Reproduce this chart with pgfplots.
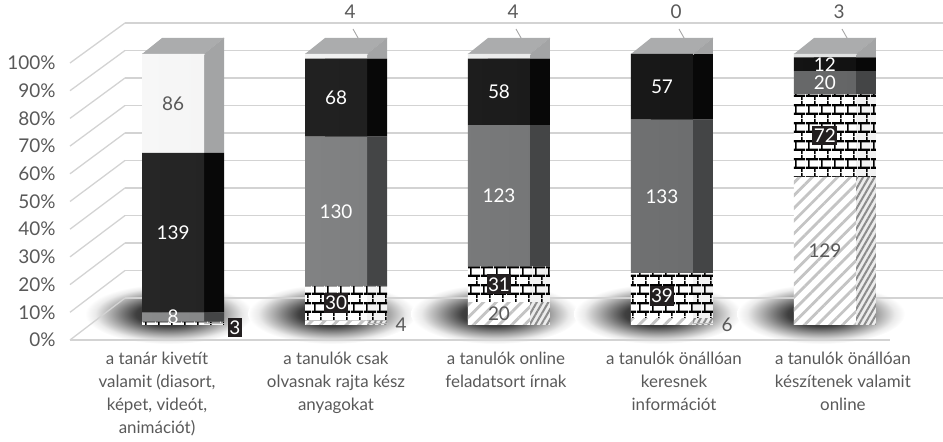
\documentclass[border=0pt]{standalone}
\usepackage{pgfplots}
\pgfplotsset{compat=1.18}
\usepackage{pgfplotstable}
\usepackage{fontspec}
\setmainfont{Lato}
\usetikzlibrary{patterns.meta}

\definecolor{labgray}{HTML}{595959}
\definecolor{gridgray}{HTML}{D3D3D3}
\definecolor{hatchgray}{HTML}{C4C4C4}
\definecolor{hatchside}{HTML}{8C8C8C}
\definecolor{midL}{HTML}{8A8B8C}
\definecolor{midR}{HTML}{646566}
\definecolor{midS}{HTML}{444546}
\definecolor{blkL}{HTML}{262626}
\definecolor{blkR}{HTML}{121212}
\definecolor{blkS}{HTML}{080808}
\definecolor{ltL}{HTML}{F7F7F7}
\definecolor{ltR}{HTML}{E0E1E1}
\definecolor{ltS}{HTML}{A3A4A5}
\definecolor{capgray}{HTML}{ABACAD}
\definecolor{boxblack}{HTML}{231F20}

\pgfdeclareradialshading{floorshadow}{\pgfpoint{0bp}{0bp}}{%
  color(0bp)=(black!90); color(10bp)=(black!75); color(17bp)=(black!35);
  color(22bp)=(black!8); color(25bp)=(white); color(50bp)=(white)}

\pgfdeclarepattern{
  name=bricks3d, type=uncolored,
  bottom left={\pgfpoint{0bp}{0bp}},
  top right={\pgfpoint{13bp}{18bp}},
  tile size={\pgfpoint{13bp}{18bp}},
  code={
    \pgfsetlinewidth{2.4bp}
    \pgfpathmoveto{\pgfpoint{0bp}{4.5bp}}\pgfpathlineto{\pgfpoint{13bp}{4.5bp}}
    \pgfpathmoveto{\pgfpoint{0bp}{13.5bp}}\pgfpathlineto{\pgfpoint{13bp}{13.5bp}}
    \pgfusepath{stroke}
    \pgfsetlinewidth{1.6bp}
    \pgfpathmoveto{\pgfpoint{3bp}{4.5bp}}\pgfpathlineto{\pgfpoint{3bp}{13.5bp}}
    \pgfpathmoveto{\pgfpoint{9.5bp}{13.5bp}}\pgfpathlineto{\pgfpoint{9.5bp}{18bp}}
    \pgfpathmoveto{\pgfpoint{9.5bp}{0bp}}\pgfpathlineto{\pgfpoint{9.5bp}{4.5bp}}
    \pgfusepath{stroke}
  }
}

% a = hatched, b = bricks, c = grey, d = black, e = light
\pgfplotstableread{
x a b c d e
0 0 3 8 139 86
1 4 30 130 68 4
2 20 31 123 58 4
3 6 39 133 57 0
4 129 72 20 12 3
}\datatable
\newcommand{\tot}{(\thisrow{a}+\thisrow{b}+\thisrow{c}+\thisrow{d}+\thisrow{e})}

\pgfplotsset{
  bargeo/.style={at={(70bp,117bp)}, anchor=south west, scale only axis,
    width=820bp, height=271bp, xmin=-0.632, xmax=4.399, ymin=0, ymax=100,
    hide axis, clip=false},
  lab/.style={draw=none, mark=none, point meta=explicit symbolic,
    nodes near coords style={anchor=center, font=\fontsize{19}{19}\selectfont, #1}},
}

\begin{document}
\begin{tikzpicture}
% floor shadows
\foreach \k in {0,...,4}{
  \shade[shading=floorshadow]
    ({70bp+(\k+0.632)*163bp-4bp},128bp) ellipse [x radius=84bp, y radius=30bp];
}
% back wall grid
\begin{axis}[at={(125bp,144bp)}, anchor=south west, scale only axis,
  width=818bp, height=275bp, xmin=0, xmax=1, ymin=0, ymax=100,
  ytick={0,10,...,100}, xtick=\empty, yticklabels={},
  ymajorgrids, major grid style={draw=gridgray, line width=1.3bp},
  axis line style={draw=none}, major tick length=0pt]
\end{axis}
\foreach \k in {0,...,10}{
  \draw[gridgray, line width=1.3bp] (70bp,{102bp+\k*27.7bp}) -- (125bp,{144bp+\k*27.5bp});
}
% front axis: tick labels, category labels, floor edge
\begin{axis}[at={(70bp,102bp)}, anchor=south west, scale only axis,
  width=820bp, height=277bp, xmin=-0.632, xmax=4.399, ymin=0, ymax=100,
  axis x line*=bottom, axis y line*=left,
  x axis line style={draw=gridgray, line width=1.3bp, -},
  y axis line style={draw=none},
  major tick length=0pt,
  ytick={0,10,...,100},
  yticklabels={0\%,10\%,20\%,30\%,40\%,50\%,60\%,70\%,80\%,90\%,100\%},
  yticklabel style={font=\fontsize{19}{19}\selectfont, text=labgray, anchor=east, xshift=-11bp},
  xtick={-0.098,1.0,2.043,3.074,4.11},
  xticklabels={{a tanár kivetít\\valamit (diasort,\\képet, videót,\\animációt)},
    {a tanulók csak\\olvasnak rajta kész\\anyagokat},
    {a tanulók online\\feladatsort írnak},
    {a tanulók önállóan\\keresnek\\információt},
    {a tanulók önállóan\\készítenek valamit\\online}},
  xticklabel style={font=\fontsize{17}{23}\selectfont, text=labgray, align=center, anchor=north, yshift=-9bp}]
\end{axis}
% side faces
\begin{axis}[bargeo, at={(90bp,117bp)}, ybar stacked, bar width=62bp]
\addplot[draw=none, fill=white!85!gray, postaction={pattern={Lines[angle=60,distance=5bp,line width=2bp]}, pattern color=hatchside}]
  table[x=x, y expr=\thisrow{a}/\tot*100]{\datatable};
\addplot[draw=none, fill=white!90!gray, postaction={pattern=bricks3d, pattern color=black}]
  table[x=x, y expr=\thisrow{b}/\tot*100]{\datatable};
\addplot[draw=none, fill=midS] table[x=x, y expr=\thisrow{c}/\tot*100]{\datatable};
\addplot[draw=none, fill=blkS] table[x=x, y expr=\thisrow{d}/\tot*100]{\datatable};
\addplot[draw=none, fill=ltS] table[x=x, y expr=\thisrow{e}/\tot*100]{\datatable};
\end{axis}
% front faces
\begin{axis}[bargeo, ybar stacked, bar width=62bp]
\addplot[draw=none, fill=white, postaction={pattern={Lines[angle=45,distance=9bp,line width=2.8bp]}, pattern color=hatchgray}]
  table[x=x, y expr=\thisrow{a}/\tot*100]{\datatable};
\addplot[draw=none, fill=white, postaction={pattern=bricks3d, pattern color=black}]
  table[x=x, y expr=\thisrow{b}/\tot*100]{\datatable};
\addplot[draw=none, left color=midL, right color=midR] table[x=x, y expr=\thisrow{c}/\tot*100]{\datatable};
\addplot[draw=none, left color=blkL, right color=blkR] table[x=x, y expr=\thisrow{d}/\tot*100]{\datatable};
\addplot[draw=none, left color=ltL, right color=ltR] table[x=x, y expr=\thisrow{e}/\tot*100]{\datatable};
\pgfplotsinvokeforeach{0,1,2,3,4}{
  \fill[ltS] (axis cs:#1,100) ++(31bp,0bp) -- ++(20bp,0bp) -- ++(0bp,16bp) -- cycle;
  \fill[capgray] (axis cs:#1,100) ++(-31bp,0bp) -- ++(62bp,0bp) -- ++(20bp,16bp) -- ++(-62bp,0bp) -- cycle;
  \draw[white!75!gray, line width=1.6bp] (axis cs:#1,100) ++(-31bp,0bp) -- ++(62bp,0bp) -- ++(20bp,16bp);
}
\pgfplotsinvokeforeach{1,2,3,4}{
  \draw[gray!70, line width=0.9bp] (axis cs:#1,100) ++(17bp,25bp) -- ++(13bp,-23bp);
}
\pgfplotsinvokeforeach{0,1,3}{
  \draw[gray!55, line width=0.9bp] (axis cs:#1,0) ++(29bp,2bp) -- ++(24bp,0bp);
}
\end{axis}
% value labels
\begin{axis}[bargeo]
\addplot[lab={text=labgray},
  nodes near coords={\ifnum\pgfplotspointmeta>0 \pgfplotspointmeta\fi}]
  table[x expr={\thisrow{x}+(\thisrow{a}<10)*0.4},
        y expr={ifthenelse(\thisrow{a}<10,0,\thisrow{a}/2/\tot*100)}, meta=a]{\datatable};
\addplot[lab={fill=boxblack, text=white, inner xsep=1.5bp, inner ysep=3bp}, nodes near coords]
  table[x expr={\thisrow{x}+(\thisrow{b}<10)*0.38},
        y expr={ifthenelse(\thisrow{b}<10,-0.9,(\thisrow{a}+\thisrow{b}/2)/\tot*100)}, meta=b]{\datatable};
\addplot[lab={text=white}, nodes near coords]
  table[x=x, y expr={(\thisrow{a}+\thisrow{b}+\thisrow{c}/2)/\tot*100}, meta=c]{\datatable};
\addplot[lab={text=white}, nodes near coords]
  table[x=x, y expr={(\thisrow{a}+\thisrow{b}+\thisrow{c}+\thisrow{d}/2)/\tot*100}, meta=d]{\datatable};
\addplot[lab={text=labgray}, nodes near coords]
  table[x expr={\thisrow{x}+(\thisrow{e}<10)*0.086},
        y expr={ifthenelse(\thisrow{e}<10,115.5,(\tot-\thisrow{e}/2)/\tot*100)}, meta=e]{\datatable};
\end{axis}
\pgfresetboundingbox
\useasboundingbox (0,0) rectangle (943bp,442bp);
\end{tikzpicture}
\end{document}
